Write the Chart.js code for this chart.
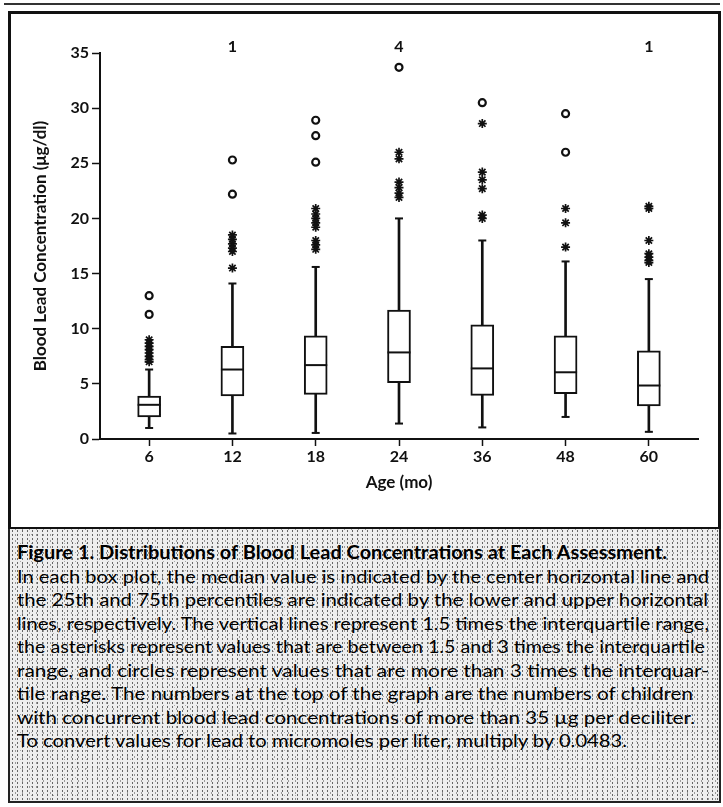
<!DOCTYPE html>
<html>
<head>
<meta charset="utf-8">
<script src="https://cdn.jsdelivr.net/npm/chart.js@4.4.1/dist/chart.umd.min.js"></script>
<style>
  body { margin: 0; width: 723px; height: 807px; background: #fff; position: relative; overflow: hidden; font-family: Lato, "Open Sans", sans-serif; color: #111; }
  #topRule { position: absolute; left: 4px; top: 3px; width: 716px; height: 2px; background: #333; }
  #chartPanel { position: absolute; left: 8px; top: 11px; width: 713px; height: 518px; border: 3px solid #111; border-bottom-width: 2px; box-sizing: border-box; }
  #chart { position: absolute; left: 0; top: 0; }
  #caption {
    position: absolute; left: 8px; top: 529px; width: 713px; height: 274px; box-sizing: border-box;
    border: 2px solid #222; border-top: none;
    background-color: #eeeeee;
    background-image:
      radial-gradient(circle, #666 0.7px, transparent 1.1px),
      radial-gradient(circle, #999 0.6px, transparent 1px),
      radial-gradient(circle, #aaa 0.6px, transparent 1px);
    background-size: 5px 4px, 7px 6px, 11px 9px;
    background-position: 0 0, 2px 3px, 5px 1px;
  }
  .line { position: absolute; left: 7px; white-space: nowrap; font-size: 18px; line-height: 20px; transform-origin: 0 50%; color: #000; }
  .line.title { font-weight: 700; }
</style>
</head>
<body>
<div id="topRule"></div>
<div id="chartPanel"></div>
<canvas id="chart" width="723" height="528"></canvas>
<div id="caption"></div>
<script>
// Yaş grupları (ay)
const ages = ['6', '12', '18', '24', '36', '48', '60'];

// Kutu grafiği değerleri (µg/dl)
const q1 = [2.0, 3.9, 4.05, 5.1, 3.95, 4.1, 3.0];
const medians = [3.1, 6.3, 6.7, 7.85, 6.4, 6.05, 4.85];
const q3 = [3.9, 8.4, 9.35, 11.7, 10.35, 9.35, 8.0];
const whiskerLow = [1.0, 0.5, 0.55, 1.4, 1.05, 2.0, 0.65];
const whiskerHigh = [6.3, 14.1, 15.6, 20.0, 18.0, 16.1, 14.5];

// Yıldızlar (1.5-3 IQR) ve daireler (>3 IQR)
const asterisks = [
    [9.0, 8.7, 8.4, 8.1, 7.8, 7.5, 7.2, 7.0],
    [18.5, 18.1, 17.7, 17.3, 17.0, 15.5],
    [20.9, 20.4, 20.0, 19.6, 19.2, 18.0, 17.6, 17.2],
    [26.0, 25.4, 23.3, 22.8, 22.3, 21.9],
    [28.6, 24.2, 23.5, 22.7, 20.3, 20.0],
    [20.9, 19.6, 17.4],
    [21.1, 20.9, 18.0, 16.8, 16.5, 16.2, 16.0]
];
const circles = [
    [13.0, 11.3],
    [25.3, 22.2],
    [28.9, 27.5, 25.1],
    [33.7],
    [30.5],
    [29.5, 26.0],
    []
];

// 35 µg/dl üstündeki çocuk sayıları
const countsAbove35 = [null, 1, null, 4, null, null, 1];

const yTicks = [0, 5, 10, 15, 20, 25, 30, 35];

const captionLines = [
    'Figure 1. Distributions of Blood Lead Concentrations at Each Assessment.',
    'In each box plot, the median value is indicated by the center horizontal line and',
    'the 25th and 75th percentiles are indicated by the lower and upper horizontal',
    'lines, respectively. The vertical lines represent 1.5 times the interquartile range,',
    'the asterisks represent values that are between 1.5 and 3 times the interquartile',
    'range, and circles represent values that are more than 3 times the interquar-',
    'tile range. The numbers at the top of the graph are the numbers of children',
    'with concurrent blood lead concentrations of more than 35 \u00b5g per deciliter.',
    'To convert values for lead to micromoles per liter, multiply by 0.0483.'
];
const captionRight = [657, 699, 698, 699, 695, 699, 683, 685, 617];

const ink = '#111';
const tickFont = { family: 'Lato', size: 16, weight: '700' };
const titleFont = { family: 'Lato', size: 17, weight: '700' };

// Üst sayılar
const topCountsPlugin = {
    id: 'topCounts',
    afterDraw(chart) {
        const { ctx, chartArea, scales } = chart;
        ctx.save();
        ctx.font = '700 16px Lato';
        ctx.fillStyle = ink;
        ctx.textAlign = 'center';
        ctx.textBaseline = 'middle';
        countsAbove35.forEach((n, i) => {
            if (n === null) return;
            ctx.fillText(String(n), scales.x.getPixelForValue(i), chartArea.top - 6);
        });
        ctx.restore();
    }
};

const idx = ages.map((a, i) => i);

new Chart(document.getElementById('chart'), {
    type: 'bar',
    data: {
        datasets: [
            {
                type: 'bar',
                data: idx.map(i => ({ x: i, y: [whiskerLow[i], whiskerHigh[i]] })),
                backgroundColor: ink,
                barThickness: 2,
                grouped: false,
                order: 6
            },
            {
                type: 'bar',
                data: idx.map(i => ({ x: i, y: [q1[i], q3[i]] })),
                backgroundColor: '#fff',
                borderColor: ink,
                borderWidth: 2,
                borderSkipped: false,
                barThickness: 23,
                grouped: false,
                order: 5
            },
            {
                type: 'scatter',
                data: idx.map(i => ({ x: i, y: medians[i] })),
                pointStyle: 'line',
                pointRadius: 11.5,
                borderColor: ink,
                borderWidth: 2,
                order: 4
            },
            {
                type: 'scatter',
                data: idx.flatMap(i => [{ x: i, y: whiskerLow[i] }, { x: i, y: whiskerHigh[i] }]),
                pointStyle: 'line',
                pointRadius: 4,
                borderColor: ink,
                borderWidth: 2,
                order: 3
            },
            {
                type: 'scatter',
                data: asterisks.flatMap((vals, i) => vals.map(v => ({ x: i, y: v }))),
                pointStyle: 'star',
                pointRadius: 4.5,
                borderColor: ink,
                borderWidth: 1.7,
                order: 2
            },
            {
                type: 'scatter',
                data: circles.flatMap((vals, i) => vals.map(v => ({ x: i, y: v }))),
                pointStyle: 'circle',
                pointRadius: 3.5,
                backgroundColor: '#fff',
                borderColor: ink,
                borderWidth: 2.2,
                order: 1
            }
        ]
    },
    options: {
        responsive: false,
        animation: false,
        devicePixelRatio: 1,
        layout: { padding: { left: 0, top: 53, right: 25, bottom: 0 } },
        plugins: { legend: { display: false }, tooltip: { enabled: false } },
        scales: {
            x: {
                type: 'linear',
                min: -0.59,
                max: 6.59,
                offset: false,
                afterBuildTicks: axis => { axis.ticks = idx.map(i => ({ value: i })); },
                afterFit: axis => { axis.height = 89; },
                ticks: { callback: (v, i) => ages[i], font: tickFont, color: ink, padding: 1, maxRotation: 0, autoSkip: false },
                grid: { offset: false, drawOnChartArea: false, drawTicks: true, tickLength: 7, tickColor: ink, tickWidth: 1.5 },
                border: { display: true, color: ink, width: 2 },
                title: { display: true, text: 'Age (mo)', color: ink, font: titleFont, padding: { top: 0, bottom: 35 } }
            },
            y: {
                min: 0,
                max: 35,
                afterBuildTicks: axis => { axis.ticks = yTicks.map(v => ({ value: v })); },
                afterFit: axis => { axis.width = 100; },
                ticks: { font: tickFont, color: ink, padding: 3 },
                grid: { drawOnChartArea: false, drawTicks: true, tickLength: 8, tickColor: ink, tickWidth: 1.5 },
                border: { display: true, color: ink, width: 2 },
                title: { display: true, text: 'Blood Lead Concentration (\u03bcg/dl)', color: ink, font: titleFont, padding: { top: 30, bottom: 0 } }
            }
        }
    },
    plugins: [topCountsPlugin]
});

// Alt yazı satırları
const caption = document.getElementById('caption');
captionLines.forEach((txt, i) => {
    const div = document.createElement('div');
    div.className = i === 0 ? 'line title' : 'line';
    div.textContent = txt;
    div.style.top = (13 + i * 23.5) + 'px';
    caption.appendChild(div);
    const w = div.getBoundingClientRect().width;
    div.style.transform = `scaleX(${(captionRight[i] - 7) / w})`;
});
</script>
</body>
</html>
